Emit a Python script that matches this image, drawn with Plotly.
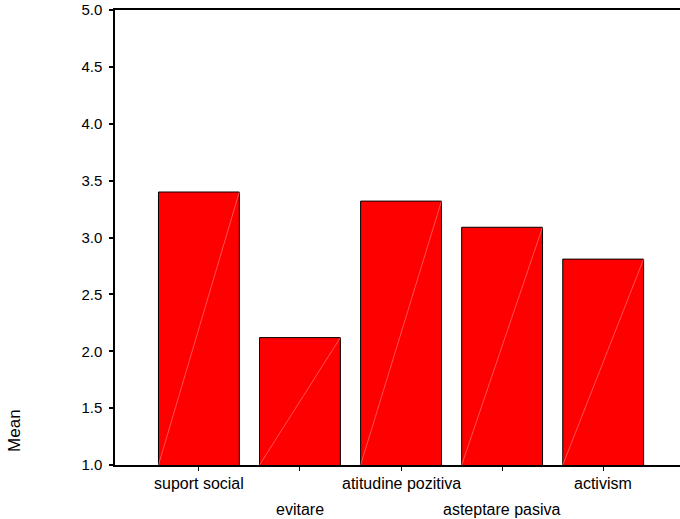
import plotly.graph_objects as go

categories = ["suport social", "evitare", "atitudine pozitiva", "asteptare pasiva", "activism"]
means = [3.40, 2.12, 3.32, 3.09, 2.81]
label_rows = [0, 1, 0, 1, 0]
y_ticks = [1.0, 1.5, 2.0, 2.5, 3.0, 3.5, 4.0, 4.5, 5.0]
y_axis_title = "Mean"

FONT = "Liberation Sans, Arial, sans-serif"
bar_width = 0.8
idx = list(range(len(categories)))

fig = go.Figure()
fig.add_trace(go.Bar(
    x=idx, y=means, width=bar_width,
    marker=dict(color="#ff0000", line=dict(color="black", width=1)),
    hoverinfo="skip",
))

# faint diagonal lines across each bar (bottom-left to top-right)
dx, dy = [], []
for i, v in zip(idx, means):
    dx += [i - bar_width / 2, i + bar_width / 2, None]
    dy += [y_ticks[0], v, None]
fig.add_trace(go.Scatter(x=dx, y=dy, mode="lines",
                         line=dict(color="rgba(255,170,170,0.8)", width=0.6),
                         hoverinfo="skip"))

annotations = []
for i, (c, r) in enumerate(zip(categories, label_rows)):
    annotations.append(dict(
        x=i, xref="x", y=0, yref="paper", yanchor="middle", xanchor="center",
        yshift=-18 - 26 * r, text=c, showarrow=False,
        font=dict(family=FONT, size=16, color="black"),
    ))
annotations.append(dict(
    x=0, xref="paper", y=0.075, yref="paper", xshift=-100,
    xanchor="center", yanchor="middle", text=y_axis_title, textangle=-90,
    showarrow=False, font=dict(family=FONT, size=17, color="black"),
))

fig.update_layout(
    width=680, height=519,
    margin=dict(l=115, r=0, t=10, b=54),
    paper_bgcolor="white", plot_bgcolor="white",
    showlegend=False,
    bargap=0.2,
    annotations=annotations,
    font=dict(family=FONT, size=15, color="black"),
    xaxis=dict(
        range=[-0.83, 4.76], tickvals=idx, ticktext=[""] * len(idx),
        ticks="outside", ticklen=4, tickcolor="black", tickwidth=1,
        showline=True, linecolor="black", linewidth=1.5, mirror=True,
        showgrid=False, zeroline=False, fixedrange=True,
    ),
    yaxis=dict(
        range=[1, 5], tickvals=y_ticks, ticktext=[f"{t:.1f}" for t in y_ticks],
        ticks="outside", ticklen=4, tickcolor="black", tickwidth=1.5,
        showline=True, linecolor="black", linewidth=1.5,
        showgrid=False, zeroline=False, ticklabelstandoff=4,
        tickfont=dict(family=FONT, size=15, color="black"),
    ),
)

fig.write_html(
    "out.html",
    config={"displayModeBar": False},
    post_script="document.body.style.margin='0';document.body.style.overflow='hidden';",
)
